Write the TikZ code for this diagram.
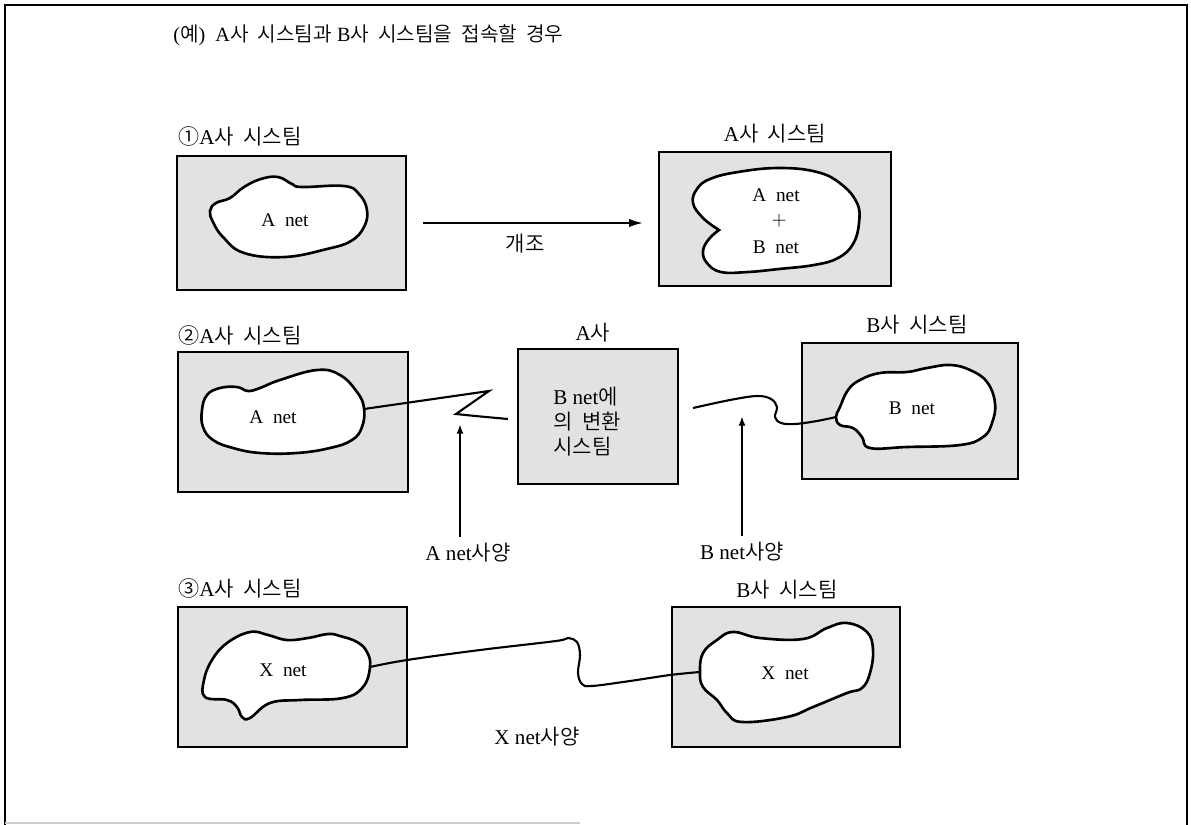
\documentclass[tikz,border=0pt]{standalone}
\usepackage{fontspec}
\usepackage{tikz}
\usetikzlibrary{arrows.meta,positioning}
\setmainfont{Liberation Serif}
\newfontfamily\kr{Noto Sans CJK KR}[UprightFont={* DemiLight}, WordSpace=2]
\newcommand{\ko}[1]{{\kr #1}}
\newcommand{\headsize}{\fontsize{11.5}{13}\selectfont}
\newcommand{\lblsize}{\fontsize{12}{14}\selectfont}
\newcommand{\txtsize}{\fontsize{11}{14.2}\selectfont}
\newcommand{\convsize}{\fontsize{12}{14.2}\selectfont}
\definecolor{boxgray}{RGB}{226,226,226}

\begin{document}
\begin{tikzpicture}[
    x=0.02cm, y=-0.02cm,
    sysbox/.style={rectangle, draw=black, line width=1.1pt, fill=boxgray, inner sep=0pt},
    blob/.style={draw=black, line width=1.5pt, fill=white},
    wire/.style={black, line width=1.2pt},
    lbl/.style={font=\lblsize, anchor=west, inner sep=0pt},
    ctext/.style={font=\lblsize, inner sep=0pt},
    net/.style={font=\txtsize, inner sep=1pt},
    specarrow/.style={-{Latex[length=5.5pt,width=4pt]}, line width=1.1pt},
    bigarrow/.style={-{Latex[length=8pt,width=4.8pt]}, line width=1.1pt}
]
    \useasboundingbox (0,0) rectangle (1191,825);

    % outer frame
    \draw[line width=0.8pt] (5,825) -- (5,5) -- (1187,5) -- (1187,825);
    \draw[gray!40, line width=0.6pt] (5,823) -- (580,823);

    % heading
    \node[lbl, font=\headsize] (head) at (173,35) {(\ko{예})\ \ A\ko{사 시스팀과} B\ko{사 시스팀을 접속할 경우}};

    % (1) remodelling
    \node[lbl] (lbl1) at (178,136) {\ko{①}A\ko{사 시스팀}};
    \node[sysbox, minimum width=4.58cm, minimum height=2.68cm] (sysA1) at (291.5,223) {};
    \draw[blob] plot[smooth cycle, tension=0.7] coordinates {(210,211) (216,203) (230,198) (244,187) (261,179) (278,177) (292,184) (302,187) (344,186) (359,194) (367,210) (364,227) (351,241) (327,249) (285,257) (244,253) (223,237) (213,222)};
    \node[net] (t1) at (285,220) {A\ \ net};

    \node[ctext] (lbl1b) at (775,134) {A\ko{사 시스팀}};
    \node[sysbox, minimum width=4.64cm, minimum height=2.68cm] (sysA1b) at (775,219) {};
    \draw[blob] plot[smooth, tension=0.7] coordinates {(719,230) (703,218) (693,203) (697,189) (710,179) (738,172) (779,168) (817,172) (841,184) (857,203) (859,223) (853,244) (838,258) (814,265) (779,269) (748,272) (721,272) (707,263) (703,251) (709,239) (719,230)} -- cycle;
    \node[net] (t1ba) at (776,195) {A\ \ net};
    \node[net] (t1bp) at (779,221) {$+$};
    \node[net] (t1bb) at (776,247) {B\ \ net};

    \draw[bigarrow, shorten <=0.32cm, shorten >=0.3cm] (sysA1.east) -- (sysA1.east -| sysA1b.west);
    \node[ctext] (remodel) at (525,244) {\ko{개조}};

    % (2) conversion system
    \node[lbl] (lbl2) at (178,335) {\ko{②}A\ko{사 시스팀}};
    \node[sysbox, minimum width=4.6cm, minimum height=2.8cm] (sysA2) at (293,422) {};
    \draw[blob] plot[smooth cycle, tension=0.7] coordinates {(202,410) (207,395) (220,388) (237,387) (248,391) (260,388) (280,380) (317,370) (340,375) (357,392) (364,408) (362,427) (352,440) (330,448) (297,453) (260,453) (233,448) (213,440) (203,427)};
    \node[net] (t2a) at (273,417) {A\ \ net};

    \node[ctext] (lblconv) at (593,333) {A\ko{사}};
    \node[sysbox, minimum width=3.2cm, minimum height=2.7cm] (conv) at (598,416.5) {};
    \node[font=\convsize, anchor=west, align=left, inner sep=0pt] (convtxt) at (553,422) {B net\ko{에}\\\ko{의 변환}\\\ko{시스팀}};

    \node[ctext] (lblB2) at (917,325) {B\ko{사 시스팀}};
    \node[sysbox, minimum width=4.32cm, minimum height=2.72cm] (sysB2) at (910,411) {};
    \draw[blob] plot[smooth cycle, tension=0.7] coordinates {(836,417) (840,407) (848,390) (860,380) (880,373) (907,372) (927,368) (950,365) (970,370) (987,382) (995,403) (992,423) (983,437) (960,445) (907,447) (870,448) (862,437) (853,428) (840,425)};
    \node[net] (t2b) at (912,408) {B\ \ net};

    \coordinate (anetR) at (364,409);
    \coordinate (zzA) at (508,419);
    \draw[wire] (anetR) -- (489,391) -- (456,414) .. controls (475,416) .. (zzA);
    \coordinate (zzB) at (693,408);
    \coordinate (bnetL) at (836,417);
    \draw[wire] plot[smooth, tension=0.6] coordinates {(zzB) (730,400) (757,396) (771,399) (777,407) (775,417) (781,423) (795,424) (817,421) (bnetL)};

    \coordinate (tipA) at (460,424);
    \node[ctext] (specA) at (468,553) {A net\ko{사양}};
    \draw[specarrow, shorten <=3.4pt] (specA.north -| tipA) -- (tipA);
    \coordinate (tipB) at (742,416);
    \node[ctext] (specB) at (742,552) {B\ net\ko{사양}};
    \draw[specarrow, shorten <=3.4pt] (specB.north -| tipB) -- (tipB);

    % (3) common net
    \node[lbl] (lbl3) at (178,588) {\ko{③}A\ko{사 시스팀}};
    \node[sysbox, minimum width=4.58cm, minimum height=2.8cm] (sysA3) at (292.5,677) {};
    \draw[blob] plot[smooth cycle, tension=0.7] coordinates {(370,667) (367,652) (357,642) (340,636) (328,634) (308,638) (287,640) (268,635) (250,632) (227,643) (212,660) (204,680) (205,697) (227,700) (237,707) (242,717) (250,718) (270,703) (300,700) (343,698) (363,687)};
    \node[net] (t3a) at (283,670) {X\ \ net};

    \node[ctext] (lblB3) at (787,590) {B\ko{사 시스팀}};
    \node[sysbox, minimum width=4.56cm, minimum height=2.8cm] (sysB3) at (786,677) {};
    \draw[blob] plot[smooth cycle, tension=0.7] coordinates {(700,672) (703,653) (717,640) (733,632) (760,638) (803,639) (827,628) (847,623) (867,632) (873,650) (870,673) (862,688) (847,693) (813,707) (787,717) (742,722) (727,713) (717,700) (703,687)};
    \node[net] (t3b) at (785,673) {X\ \ net};

    \coordinate (xA) at (370,667);
    \coordinate (xB) at (700,672);
    \draw[wire] plot[smooth, tension=0.6] coordinates {(xA) (407,660) (480,650) (556,641) (568,638) (577,642) (580,655) (578,673) (582,684) (592,686) (630,681) (670,675) (xB)};
    \node[ctext] (specX) at (537,737) {X net\ko{사양}};
\end{tikzpicture}
\end{document}
